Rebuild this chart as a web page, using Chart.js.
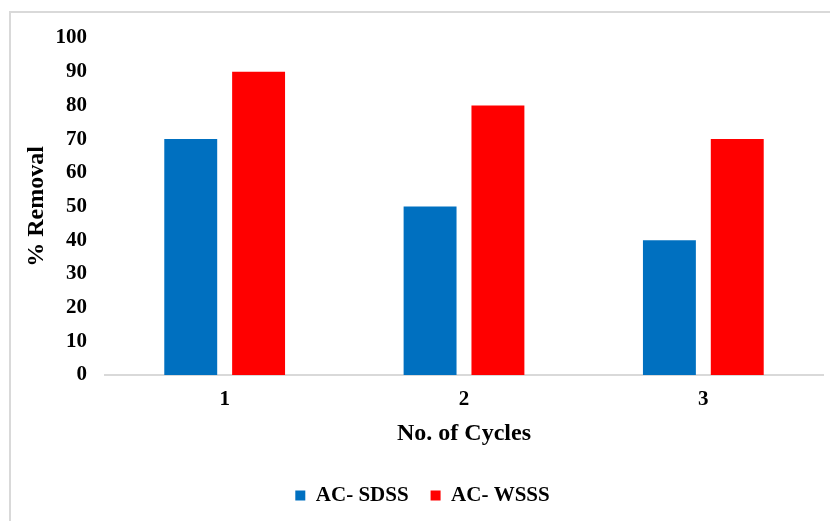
<!DOCTYPE html>
<html>
<head>
<meta charset="utf-8">
<script src="https://cdn.jsdelivr.net/npm/chart.js@4"></script>
<style>
  html, body { margin: 0; padding: 0; background: #fff; }
  #frame { position: absolute; left: 9px; top: 11px; width: 840px; height: 530px; border: 2px solid #d9d9d9; box-sizing: border-box; }
  #wrap { position: absolute; left: 0; top: 0; width: 830px; height: 521px; }
</style>
</head>
<body>
<div id="frame"></div>
<div id="wrap"><canvas id="chart"></canvas></div>
<script>
const cycles = ['1', '2', '3'];
const sdss = [70, 50, 40];
const wsss = [90, 80, 70];
const yTicks = [0, 10, 20, 30, 40, 50, 60, 70, 80, 90, 100];

const serif = '"Liberation Serif", "Times New Roman", serif';
const bold21 = { family: serif, size: 21, weight: 'bold' };
const bold24 = { family: serif, size: 24, weight: 'bold' };

new Chart(document.getElementById('chart'), {
  type: 'bar',
  data: {
    labels: cycles,
    datasets: [
      { label: 'AC- SDSS', data: sdss, backgroundColor: '#0070c0', barPercentage: 0.78, categoryPercentage: 0.567 },
      { label: 'AC- WSSS', data: wsss, backgroundColor: '#ff0000', barPercentage: 0.78, categoryPercentage: 0.567 },
    ],
  },
  options: {
    responsive: true,
    maintainAspectRatio: false,
    animation: false,
    layout: { padding: { left: 22, right: 7, top: 38, bottom: 5 } },
    plugins: {
      tooltip: { enabled: false },
      legend: {
        position: 'bottom',
        labels: { color: '#000', font: bold21, boxWidth: 10, boxHeight: 10, padding: 22 },
      },
    },
    scales: {
      x: {
        grid: { display: false, drawTicks: false },
        border: { display: true, color: '#d9d9d9', width: 2 },
        ticks: { color: '#000', font: bold21, padding: 12 },
        title: { display: true, text: 'No. of Cycles', color: '#000', font: bold24, padding: { top: 0, bottom: 15 } },
        afterFit: s => { s.height = 88; },
      },
      y: {
        min: 0,
        max: 100,
        afterBuildTicks: s => { s.ticks = yTicks.map(v => ({ value: v })); },
        grid: { display: false, drawTicks: false },
        border: { display: false },
        ticks: { color: '#000', font: bold21, padding: 18 },
        title: { display: true, text: '% Removal', color: '#000', font: bold24, padding: 0 },
        afterFit: s => { s.width = 83; },
      },
    },
  },
});
</script>
</body>
</html>
